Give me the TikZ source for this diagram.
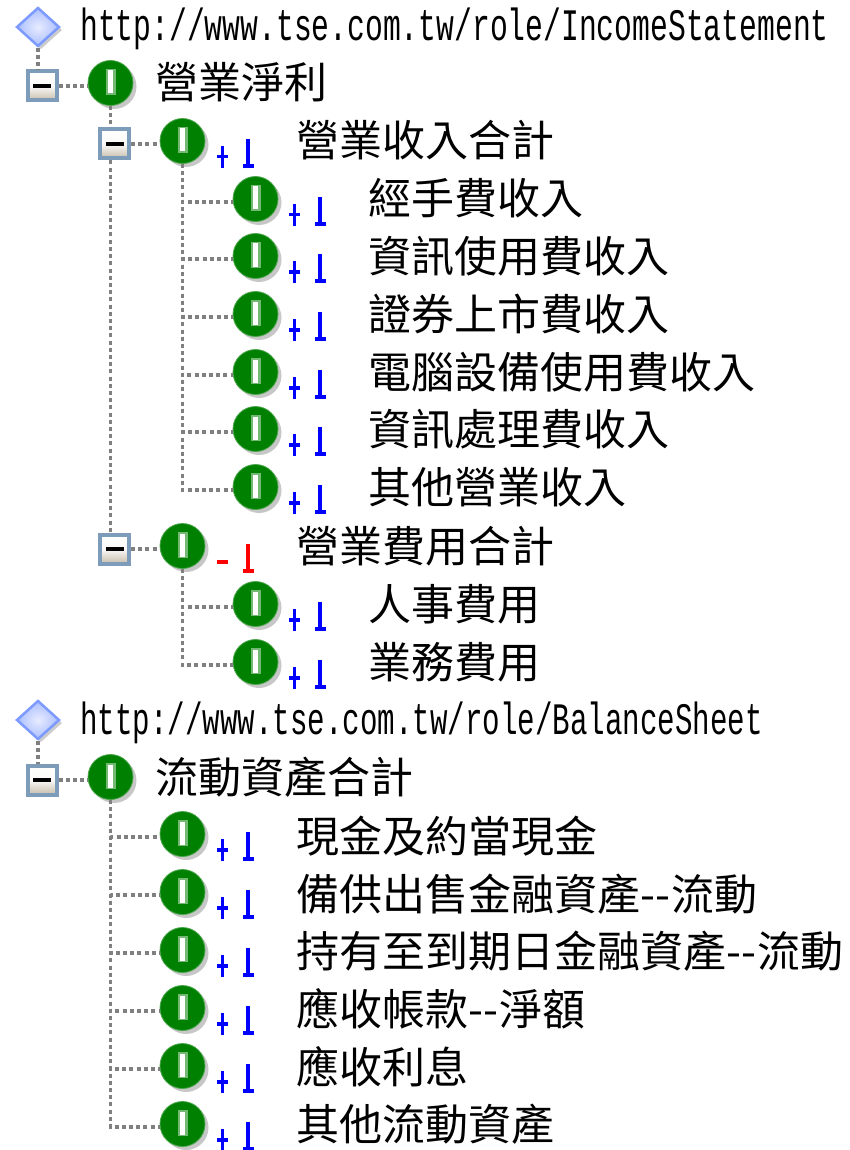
\documentclass[tikz,border=0pt]{standalone}
\usepackage{fontspec}
\newfontfamily\cjkfont{Noto Sans CJK TC}
\newfontfamily\urlfont[FakeStretch=0.66]{Liberation Mono}
\newfontfamily\urlfontb[FakeStretch=0.648]{Liberation Mono}
\usetikzlibrary{shapes.geometric,shadows}
\definecolor{icongreen}{RGB}{0,128,0}
\definecolor{boxedge}{RGB}{124,156,186}
\definecolor{boxtan}{RGB}{198,188,170}
\definecolor{diaedge}{RGB}{125,155,255}
\definecolor{diainner}{RGB}{232,236,255}
\definecolor{treegray}{RGB}{128,128,128}
\definecolor{signblue}{RGB}{0,0,255}
\definecolor{signred}{RGB}{255,0,0}
\tikzset{
  greenicon/.style={circle,fill=icongreen,draw=icongreen!70!white,line width=.8pt,minimum size=45pt,inner sep=0pt,
    drop shadow={shadow xshift=3.5pt,shadow yshift=-3.5pt,fill=black,opacity=.22},
    path picture={
      \fill[white!45!icongreen] ([xshift=-5pt,yshift=-12pt]path picture bounding box.center) rectangle ([xshift=5pt,yshift=14pt]path picture bounding box.center);
      \fill[white] ([xshift=-2.2pt,yshift=-10.5pt]path picture bounding box.center) rectangle ([xshift=2.2pt,yshift=12.5pt]path picture bounding box.center);
    }},
  togglebox/.style={rectangle,draw=boxedge,line width=4pt,top color=white,bottom color=boxtan,middle color=white!92!boxtan,minimum size=29pt,inner sep=0pt,
    path picture={\fill[black] ([xshift=-9pt,yshift=-2pt]path picture bounding box.center) rectangle ([xshift=9pt,yshift=2pt]path picture bounding box.center);}},
  rootdiamond/.style={diamond,draw=diaedge,line width=2.5pt,inner color=diainner,outer color=diaedge!65!white,minimum width=43pt,minimum height=39pt,inner sep=0pt,
    drop shadow={shadow xshift=3pt,shadow yshift=-3pt,fill=black,opacity=.2}},
  treeline/.style={treegray,line width=3.6pt,dash pattern=on 4pt off 3.2pt},
  cjklabel/.style={anchor=base west,inner sep=0pt,font=\cjkfont\fontsize{43}{50}\selectfont},
  urllabel/.style={anchor=base west,inner sep=0pt,font=\urlfont\fontsize{45}{50}\selectfont},
  urllabelb/.style={anchor=base west,inner sep=0pt,font=\urlfontb\fontsize{45}{50}\selectfont}
}
% sign pair: x of plus centre, row y, colour, 1 when the plus has a stem
\newcommand{\signpair}[4]{%
  \fill[#3] (#1-5.5,#2+11) rectangle (#1+5.5,#2+14.5);
  \ifnum#4=1 \fill[#3] (#1-1.8,#2+2) rectangle (#1+1.8,#2+24);\fi
  \fill[#3] (#1+23.5,#2-5) rectangle (#1+27.5,#2+24);
  \fill[#3] (#1+20,#2+20) rectangle (#1+31,#2+24);
}
\newcommand{\dbl}{\hbox to 31pt{\hss-\hss\hss-\hss}}
\begin{document}
\begin{tikzpicture}[x=1pt,y=-1pt]
\useasboundingbox[fill=white] (0,0) rectangle (850,1150);

% roots
\node[rootdiamond] (d1) at (38,27) {};
\node[urllabel] (u1) at (80,41) {http://www.tse.com.tw/role/IncomeStatement};
\node[rootdiamond] (d2) at (38,720) {};
\node[urllabelb] (u2) at (80,734) {http://www.tse.com.tw/role/BalanceSheet};

% toggle boxes
\node[togglebox] (b0) at (42,86) {};
\node[togglebox] (b1) at (114.5,144) {};
\node[togglebox] (b2) at (114.5,549) {};
\node[togglebox] (b3) at (42,780) {};

% icons
\node[greenicon] (i0) at (110.5,83) {};
\node[greenicon] (i1) at (182.5,141) {};
\node[greenicon] (i2) at (182.5,546) {};
\node[greenicon] (i3) at (110.5,777) {};
\foreach \n/\y in {a1/202,a2/259,a3/317,a4/375,a5/432,a6/490,c1/607,c2/665}
  \node[greenicon] (\n) at (255.5,\y-3) {};
\foreach \n/\y in {e1/837,e2/895,e3/953,e4/1011,e5/1069,e6/1127}
  \node[greenicon] (\n) at (182.5,\y-3) {};

% connectors
\draw[treeline] (d1.south) -- (b0.north -| d1.south);
\draw[treeline] (d2.south) -- (b3.north -| d2.south);
\draw[treeline] (b0.east) -- (i0.west |- b0.east);
\draw[treeline] (b1.east) -- (i1.west |- b1.east);
\draw[treeline] (b2.east) -- (i2.west |- b2.east);
\draw[treeline] (b3.east) -- (i3.west |- b3.east);
\draw[treeline] (i0.south) -- (b1.north -| i0.south);
\draw[treeline] (b1.south -| i0.south) -- (b2.north -| i0.south);
\foreach \n in {a1,a2,a3,a4,a5,a6}
  \draw[treeline] (i1.south) |- ([yshift=-3pt]\n.west);
\foreach \n in {c1,c2}
  \draw[treeline] (i2.south) |- ([yshift=-3pt]\n.west);
\foreach \n in {e1,e2,e3,e4,e5,e6}
  \draw[treeline] (i3.south) |- ([yshift=-3pt]\n.west);

% signs
\signpair{222.5}{144}{signblue}{1}
\signpair{222.5}{549}{signred}{0}
\foreach \y in {202,259,317,375,432,490,607,665}
  {\signpair{294.5}{\y}{signblue}{1}}
\foreach \y in {837,895,953,1011,1069,1127}
  {\signpair{222.5}{\y}{signblue}{1}}

% labels
\node[cjklabel] (t0) at (155,99) {營業淨利};
\node[cjklabel] (t1) at (296,157) {營業收入合計};
\node[cjklabel] (t2) at (296,562) {營業費用合計};
\node[cjklabel] (t3) at (155,793) {流動資產合計};
\node[cjklabel] (ta1) at (368,215) {經手費收入};
\node[cjklabel] (ta2) at (368,272) {資訊使用費收入};
\node[cjklabel] (ta3) at (368,330) {證券上市費收入};
\node[cjklabel] (ta4) at (368,388) {電腦設備使用費收入};
\node[cjklabel] (ta5) at (368,445) {資訊處理費收入};
\node[cjklabel] (ta6) at (368,503) {其他營業收入};
\node[cjklabel] (tc1) at (368,620) {人事費用};
\node[cjklabel] (tc2) at (368,678) {業務費用};
\node[cjklabel] (te1) at (296,852) {現金及約當現金};
\node[cjklabel] (te2) at (296,910) {備供出售金融資產\dbl 流動};
\node[cjklabel] (te3) at (296,967) {持有至到期日金融資產\dbl 流動};
\node[cjklabel] (te4) at (296,1025) {應收帳款\dbl 淨額};
\node[cjklabel] (te5) at (296,1083) {應收利息};
\node[cjklabel] (te6) at (296,1140) {其他流動資產};
\end{tikzpicture}
\end{document}
